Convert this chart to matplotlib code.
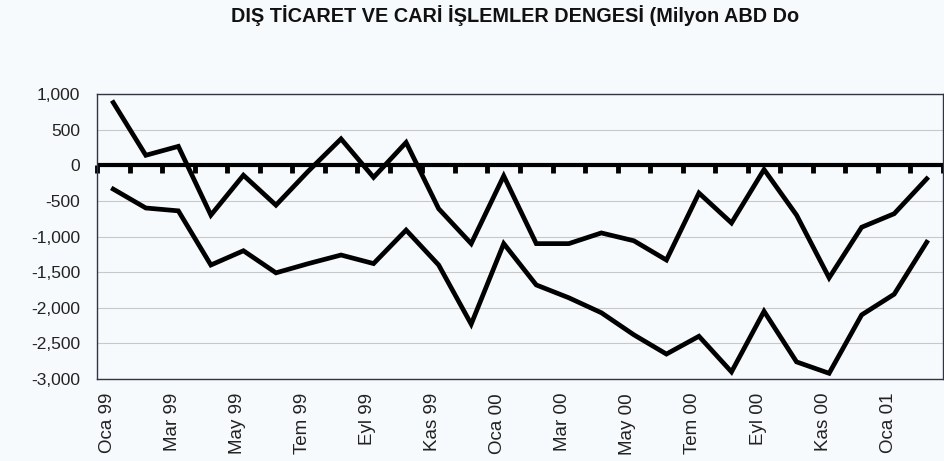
import matplotlib
matplotlib.use("Agg")
import matplotlib.pyplot as plt
import matplotlib.transforms as mtransforms
import numpy as np

months = ["Oca 99", "Şub 99", "Mar 99", "Nis 99", "May 99", "Haz 99", "Tem 99", "Ağu 99",
          "Eyl 99", "Eki 99", "Kas 99", "Ara 99", "Oca 00", "Şub 00", "Mar 00", "Nis 00",
          "May 00", "Haz 00", "Tem 00", "Ağu 00", "Eyl 00", "Eki 00", "Kas 00", "Ara 00",
          "Oca 01", "Şub 01"]
upper_series = [880, 140, 265, -700, -140, -560, -80, 370, -170, 320, -610, -1100,
                -150, -1100, -1100, -950, -1060, -1330, -390, -810, -60, -700, -1580,
                -870, -680, -190]
lower_series = [-335, -600, -640, -1400, -1200, -1510, -1380, -1260, -1380, -910, -1400,
                -2230, -1100, -1680, -1860, -2070, -2380, -2650, -2400, -2900, -2050,
                -2760, -2920, -2100, -1810, -1080]
y_ticks = [1000, 500, 0, -500, -1000, -1500, -2000, -2500, -3000]
title = "DIŞ TİCARET VE CARİ İŞLEMLER DENGESİ (Milyon ABD Do"

plt.rcParams['font.family'] = ['Liberation Sans', 'DejaVu Sans']
bg = '#f7fafc'
fig = plt.figure(figsize=(9.45, 4.61), dpi=100, facecolor=bg)
ax = fig.add_axes([97/945, 1-379/461, (943-97)/945, (379-94)/461])
ax.set_facecolor(bg)

x = np.arange(len(months))
ax.set_xlim(-0.5, len(months) - 0.5)
ax.set_ylim(min(y_ticks), max(y_ticks))

for v in y_ticks:
    if v != 0:
        ax.axhline(v, color='#c8c8c8', lw=0.8, zorder=1)

ax.plot(x, upper_series, color='black', lw=3.4, solid_joinstyle='miter', zorder=3)
ax.plot(x, lower_series, color='black', lw=3.4, solid_joinstyle='miter', zorder=3)

ax.set_yticks(y_ticks)
ax.set_yticklabels([f"{v:,}" for v in y_ticks], fontsize=12.5, color='#222222')
ax.tick_params(axis='y', length=0, pad=12)

ax.set_xticks(x[::2])
ax.set_xticklabels(months[::2], rotation=90, fontsize=13.5, color='#222222')
ax.tick_params(axis='x', length=0, pad=10)
offset = mtransforms.ScaledTranslation(-6/100, 0, fig.dpi_scale_trans)
for lab in ax.get_xticklabels():
    lab.set_transform(lab.get_transform() + offset)

for s in ax.spines.values():
    s.set_linewidth(1.0)
    s.set_color('#333344')

# zero axis: thick line with category-boundary tick marks below it
ax.axhline(0, color='black', lw=3.0, zorder=2)
frac0 = (0 - min(y_ticks)) / (max(y_ticks) - min(y_ticks))
sec = ax.secondary_xaxis(frac0)
sec.xaxis.set_ticks_position('bottom')
sec.set_xticks(np.arange(-0.5, len(months), 1.0))
sec.set_xticklabels([])
sec.tick_params(axis='x', which='both', direction='out', bottom=True, top=False,
                length=6, width=3.5, color='black')
for s in sec.spines.values():
    s.set_visible(False)

fig.text(515/945, 1-16/461, title, ha='center', va='center', fontsize=14.3,
         fontweight='bold', color='#111111')

fig.savefig('out.png', dpi=100, facecolor=bg)
